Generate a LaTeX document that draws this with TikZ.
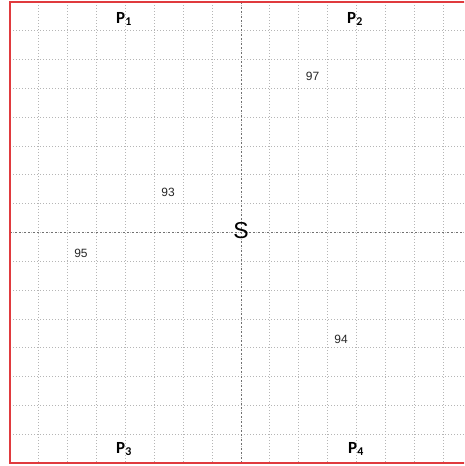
\documentclass[tikz,border=0pt]{standalone}
\usepackage{fontspec}
\setmainfont{Liberation Sans}
\newfontfamily\calib{Carlito}
\definecolor{bord}{HTML}{E03A3E}
\definecolor{gridc}{HTML}{B5B5B5}
\definecolor{axisc}{HTML}{707070}
\begin{document}
\begin{tikzpicture}[x=1pt,y=-1pt,
  gridline/.style={draw=gridc,line width=0.8pt,dash pattern=on 1pt off 2pt},
  axisline/.style={draw=axisc,line width=0.9pt,dash pattern=on 2pt off 2.5pt},
  plabel/.style={font=\calib\bfseries\fontsize{17}{20}\selectfont,inner sep=0pt},
  numlabel/.style={font=\fontsize{12}{14}\selectfont,text=black!85,inner sep=0pt},
  border/.style={draw=bord,line width=2.2pt}]
\useasboundingbox (0,0) rectangle (464,466);
\clip (0,0) rectangle (464,466);
\foreach \k in {1,...,15}{
  \draw[gridline] ({10+\k*28.875},2) -- ({10+\k*28.875},463);
  \draw[gridline] (10,{2+\k*28.8125}) -- (474,{2+\k*28.8125});
}
\draw[axisline] (241,2) -- (241,463);
\draw[axisline] (10,232.5) -- (474,232.5);
\coordinate (tl) at (10,2);
\coordinate (bl) at (10,463);
\coordinate (tr) at (470,2);
\coordinate (br) at (470,463);
\draw[border] (tr) -- (tl) -- (bl) -- (br);
\node[plabel] (p1) at (124,19) {P\textsubscript{1}};
\node[plabel] (p2) at (355,19) {P\textsubscript{2}};
\node[plabel] (p3) at (124,449) {P\textsubscript{3}};
\node[plabel] (p4) at (356,449) {P\textsubscript{4}};
\node[font=\fontsize{23}{26}\selectfont,inner sep=0pt] (s) at (241,231) {S};
\node[numlabel] (n97) at (312.5,76) {97};
\node[numlabel] (n93) at (168,192) {93};
\node[numlabel] (n95) at (81,253) {95};
\node[numlabel] (n94) at (341,339) {94};
\end{tikzpicture}
\end{document}
